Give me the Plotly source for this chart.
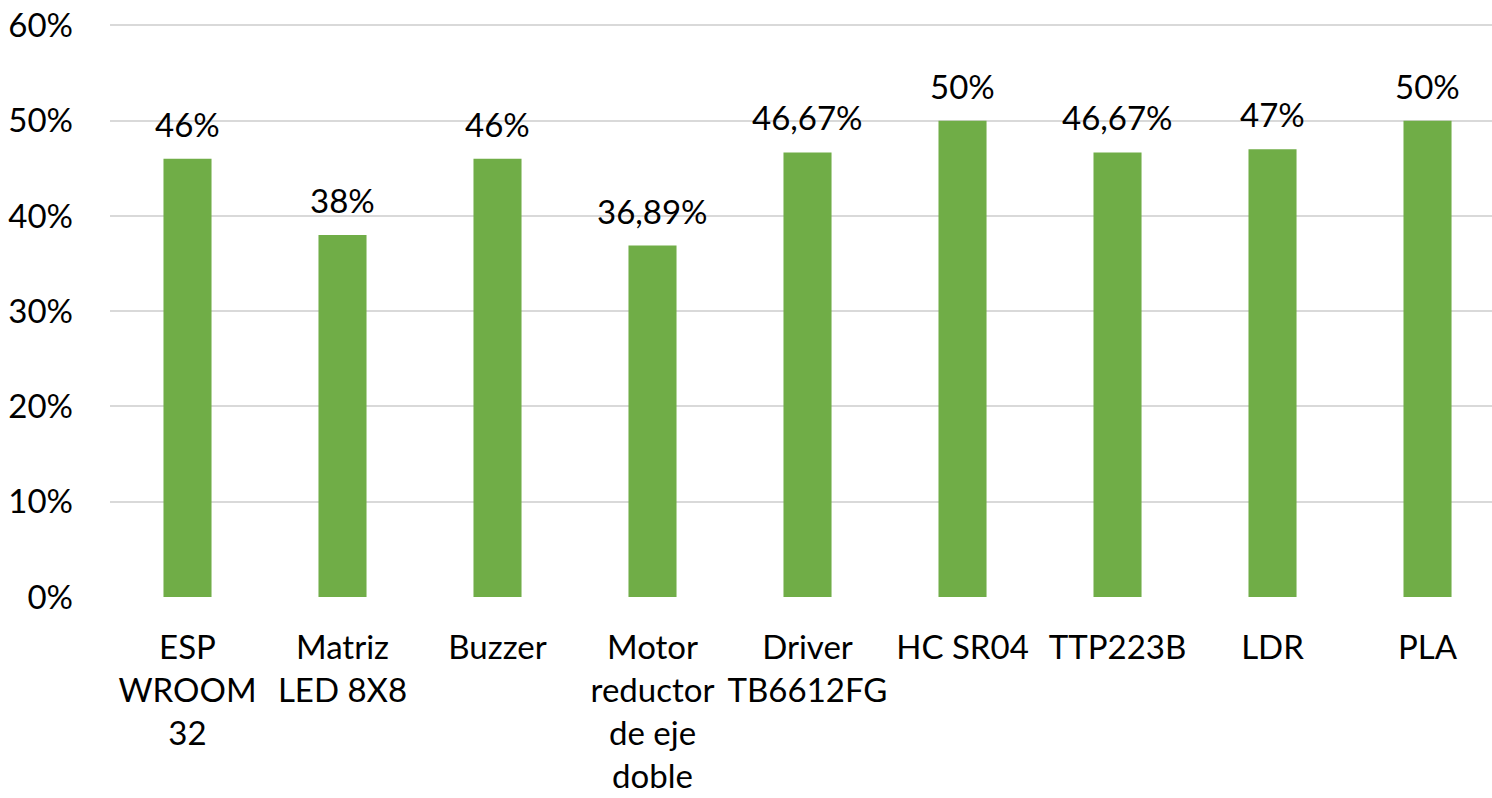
import plotly.graph_objects as go

categories = ["ESP<br>WROOM<br>32", "Matriz<br>LED 8X8", "Buzzer", "Motor<br>reductor<br>de eje<br>doble",
              "Driver<br>TB6612FG", "HC SR04", "TTP223B", "LDR", "PLA"]
values = [0.46, 0.38, 0.46, 0.3689, 0.4667, 0.50, 0.4667, 0.47, 0.50]
value_labels = ["46%", "38%", "46%", "36,89%", "46,67%", "50%", "46,67%", "47%", "50%"]
y_ticks = [0, 0.1, 0.2, 0.3, 0.4, 0.5, 0.6]
y_tick_labels = ["0%", "10%", "20%", "30%", "40%", "50%", "60%"]

FONT = "Lato"
FS = 33
x_idx = list(range(len(categories)))

fig = go.Figure()
fig.add_trace(go.Bar(
    x=x_idx, y=values, width=0.31,
    marker=dict(color="#70AD47", line=dict(width=0)),
    hoverinfo="skip",
))

for xi, v, lab in zip(x_idx, values, value_labels):
    fig.add_annotation(x=xi, y=v, text=lab, showarrow=False, yanchor="bottom",
                       yshift=13, font=dict(family=FONT, size=FS, color="#000000"))

fig.update_layout(
    width=1492, height=798,
    margin=dict(l=110, r=0, t=24, b=201, pad=0),
    plot_bgcolor="white", paper_bgcolor="white",
    showlegend=False,
    font=dict(family=FONT, size=FS, color="#000000"),
)
fig.update_xaxes(
    range=[-0.5, 8.416], tickmode="array", tickvals=x_idx, ticktext=categories,
    showgrid=False, zeroline=False, showline=False, ticks="",
    tickfont=dict(family=FONT, size=FS, color="#000000"), ticklabelstandoff=28,
    ticklabeloverflow="allow", automargin=False,
)
fig.update_yaxes(
    range=[0, 0.6015], tickmode="array", tickvals=y_ticks, ticktext=y_tick_labels,
    showgrid=True, gridcolor="#D9D9D9", gridwidth=2, zeroline=False, showline=False,
    ticks="", tickfont=dict(family=FONT, size=FS, color="#000000"), ticklabelstandoff=36,
    ticklabeloverflow="allow", automargin=False,
)
fig.write_html("out.html", config={"displayModeBar": False},
               post_script="document.body.style.margin='0px';document.body.style.overflow='hidden';")
